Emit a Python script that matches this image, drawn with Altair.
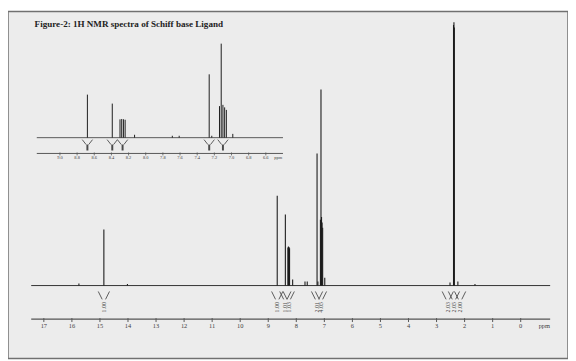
import altair as alt
import pandas as pd

# ---------------- data ----------------
title_text = "Figure-2: 1H NMR spectra of Schiff base Ligand"

# stick spectrum: chemical shift (ppm) and relative intensity (tallest = 100)
peak_ppm = [15.75, 14.86, 14.02, 8.68, 8.39, 8.30, 8.28, 8.26, 8.24, 8.13,
            7.69, 7.61, 7.26, 7.23, 7.14, 7.12, 7.10, 7.08, 7.06, 6.985,
            2.52, 2.395, 2.38, 2.365, 2.24, 1.63]
peak_int = [0.8, 21.3, 0.6, 34.1, 27.0, 14.5, 14.8, 14.6, 14.2, 2.3,
            1.5, 1.5, 50.2, 1.5, 25.0, 74.5, 26.0, 24.0, 22.0, 3.0,
            1.2, 99.0, 100.0, 98.0, 1.5, 0.6]

# main axis
main_ticks = [17, 16, 15, 14, 13, 12, 11, 10, 9, 8, 7, 6, 5, 4, 3, 2, 1, 0]
main_extent = [17.45, -1.05]

# inset (expanded aromatic region) axis
inset_ticks = [9.0, 8.8, 8.6, 8.4, 8.2, 8.0, 7.8, 7.6, 7.4, 7.2, 7.0, 6.8, 6.6]
inset_extent = [9.27, 6.40]

# integration markers
main_int_ppm = [14.86, 8.68, 8.39, 8.27, 7.26, 7.12, 2.60, 2.38, 2.16]
main_int_label = ["1.00", "1.00", "1.01", "1.03", "2.01", "4.05", "2.03", "2.05", "2.00"]
inset_int_ppm = [8.68, 8.39, 8.27, 7.26, 7.10]

# ---------------- scales ----------------
def mx():
    return alt.Scale(domain=[17.45, -1.05], range=[23.55, 549.9], nice=False, zero=False)

def my():
    return alt.Scale(domain=[0, 100], range=[278, 11], nice=False, zero=False)

def ix():
    return alt.Scale(domain=[9.27, 6.40], range=[29.2, 278.9], nice=False, zero=False)

def iy():
    return alt.Scale(domain=[0, 100], range=[128, 0], nice=False, zero=False)

INK = "#1c1c1c"
GREY = "#404040"
MARK = "#4a4a4a"

peaks = pd.DataFrame({"ppm": peak_ppm, "h": peak_int})
main_ext = pd.DataFrame({"a": [main_extent[0]], "b": [main_extent[1]]})
inset_ext = pd.DataFrame({"a": [inset_extent[0]], "b": [inset_extent[1]]})
mticks = pd.DataFrame({"t": main_ticks, "lab": [str(v) for v in main_ticks]})
iticks = pd.DataFrame({"t": inset_ticks, "lab": [f"{v:.1f}" for v in inset_ticks]})
mint = pd.DataFrame({"p": main_int_ppm, "lab": main_int_label})
iint = pd.DataFrame({"p": inset_int_ppm})

layers = []

# ---- main spectrum ----
layers.append(
    alt.Chart(main_ext).mark_rule(color="#333333", strokeWidth=1)
    .transform_calculate(zero="0")
    .encode(x=alt.X("a:Q", scale=mx(), axis=None), x2="b:Q",
            y=alt.Y("zero:Q", scale=my(), axis=None))
)
layers.append(
    alt.Chart(peaks).mark_rule(color=INK, strokeWidth=1.1)
    .transform_calculate(zero="0")
    .encode(x=alt.X("ppm:Q", scale=mx(), axis=None),
            y=alt.Y("h:Q", scale=my(), axis=None), y2="zero:Q")
)
# main axis
layers.append(
    alt.Chart(main_ext).mark_rule(color="#555555", strokeWidth=1.3)
    .encode(x=alt.X("a:Q", scale=mx(), axis=None), x2="b:Q", y=alt.value(312))
)
layers.append(
    alt.Chart(mticks).mark_rule(color="#555555", strokeWidth=1)
    .encode(x=alt.X("t:Q", scale=mx(), axis=None), y=alt.value(311), y2=alt.value(315))
)
layers.append(
    alt.Chart(mticks).mark_text(font="Liberation Serif", fontSize=6.5, color=GREY, baseline="middle")
    .encode(x=alt.X("t:Q", scale=mx(), axis=None), y=alt.value(319), text="lab:N")
)
layers.append(
    alt.Chart(pd.DataFrame({"s": ["ppm"]})).mark_text(font="Liberation Serif", fontSize=6.5, color=GREY, baseline="middle")
    .encode(x=alt.value(544), y=alt.value(319), text="s:N")
)
# main integration markers
layers.append(
    alt.Chart(mint).mark_rule(color=MARK, strokeWidth=0.9)
    .transform_calculate(l="datum.p + 0.2", m="datum.p + 0.06")
    .encode(x=alt.X("l:Q", scale=mx(), axis=None), x2="m:Q", y=alt.value(284), y2=alt.value(292))
)
layers.append(
    alt.Chart(mint).mark_rule(color=MARK, strokeWidth=0.9)
    .transform_calculate(r="datum.p - 0.2", m="datum.p - 0.06")
    .encode(x=alt.X("r:Q", scale=mx(), axis=None), x2="m:Q", y=alt.value(284), y2=alt.value(292))
)
layers.append(
    alt.Chart(mint).mark_text(font="Liberation Serif", fontSize=6, color=MARK, angle=270, baseline="middle")
    .encode(x=alt.X("p:Q", scale=mx(), axis=None), y=alt.value(300), text="lab:N")
)

# ---- inset spectrum ----
layers.append(
    alt.Chart(inset_ext).mark_rule(color="#333333", strokeWidth=0.8)
    .transform_calculate(zero="0")
    .encode(x=alt.X("a:Q", scale=ix(), axis=None), x2="b:Q",
            y=alt.Y("zero:Q", scale=iy(), axis=None))
)
layers.append(
    alt.Chart(peaks).mark_rule(color=INK, strokeWidth=1.0)
    .transform_filter("datum.ppm <= 9.27 && datum.ppm >= 6.40")
    .transform_calculate(zero="0")
    .encode(x=alt.X("ppm:Q", scale=ix(), axis=None),
            y=alt.Y("h:Q", scale=iy(), axis=None), y2="zero:Q")
)
layers.append(
    alt.Chart(inset_ext).mark_rule(color="#555555", strokeWidth=1)
    .encode(x=alt.X("a:Q", scale=ix(), axis=None), x2="b:Q", y=alt.value(144))
)
layers.append(
    alt.Chart(iticks).mark_rule(color="#555555", strokeWidth=0.8)
    .encode(x=alt.X("t:Q", scale=ix(), axis=None), y=alt.value(143), y2=alt.value(146))
)
layers.append(
    alt.Chart(iticks).mark_text(font="Liberation Serif", fontSize=4.5, color=GREY, baseline="middle")
    .encode(x=alt.X("t:Q", scale=ix(), axis=None), y=alt.value(149), text="lab:N")
)
layers.append(
    alt.Chart(pd.DataFrame({"s": ["ppm"]})).mark_text(font="Liberation Serif", fontSize=4.5, color=GREY, baseline="middle")
    .encode(x=alt.value(274), y=alt.value(149), text="s:N")
)
layers.append(
    alt.Chart(iint).mark_rule(color=MARK, strokeWidth=0.9)
    .transform_calculate(l="datum.p + 0.06", m="datum.p + 0.015")
    .encode(x=alt.X("l:Q", scale=ix(), axis=None), x2="m:Q", y=alt.value(130), y2=alt.value(135))
)
layers.append(
    alt.Chart(iint).mark_rule(color=MARK, strokeWidth=0.9)
    .transform_calculate(r="datum.p - 0.06", m="datum.p - 0.015")
    .encode(x=alt.X("r:Q", scale=ix(), axis=None), x2="m:Q", y=alt.value(130), y2=alt.value(135))
)
layers.append(
    alt.Chart(iint).mark_rule(color=MARK, strokeWidth=2)
    .encode(x=alt.X("p:Q", scale=ix(), axis=None), y=alt.value(135), y2=alt.value(141))
)

# ---- title ----
layers.append(
    alt.Chart(pd.DataFrame({"s": [title_text]})).mark_text(
        font="Liberation Serif", fontSize=9.2, fontWeight="bold", color="#222222",
        align="left", baseline="alphabetic")
    .encode(x=alt.value(27), y=alt.value(16), text="s:N")
)

chart = (
    alt.layer(*layers)
    .resolve_scale(x="independent", y="independent")
    .properties(width=568, height=352, autosize="none",
                padding={"left": 0, "top": 1, "right": 0, "bottom": 0},
                background="white")
    .configure_view(fill="#ececec", stroke="#707070", strokeWidth=1.5)
)

chart.save("out.html", embed_options={"renderer": "svg", "actions": False})
